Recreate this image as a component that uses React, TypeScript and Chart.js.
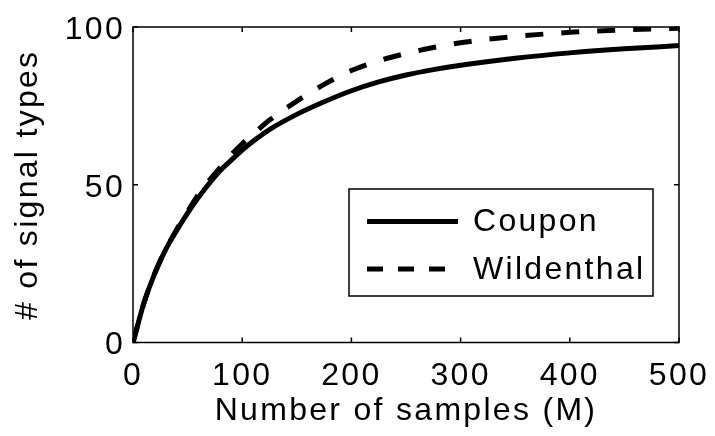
import React, { useEffect, useRef } from "react";
import { Chart, registerables } from "chart.js";

Chart.register(...registerables);

// Number of samples (M)
const samples = [0, 10, 20, 30, 40, 50, 60, 70, 80, 90, 100, 110, 125, 150, 175, 200, 225, 250, 275, 300, 350, 400, 450, 500];
// # of signal types, Coupon model
const coupon = [0, 12.5, 22, 29.5, 35.5, 41, 46, 50.5, 54.5, 57.8, 61, 63.8, 67.5, 72.3, 76.3, 79.8, 82.6, 84.8, 86.5, 87.9, 90.1, 91.8, 93.1, 94.1];
// # of signal types, Wildenthal model
const wildenthal = [0, 12.5, 22, 29.5, 35.8, 41.5, 47, 51.5, 55.5, 59.5, 63, 66, 70.5, 76.5, 81.8, 86.2, 89.3, 91.6, 93.5, 95, 97, 98.3, 99.1, 99.6];

const seriesLabels = ["Coupon", "Wildenthal"];
const xTicks = [0, 100, 200, 300, 400, 500];
const yTicks = [0, 50, 100];
const xTitle = "Number of samples (M)";
const yTitle = "# of signal types";

const FAMILY = "'Liberation Sans', Arial, Helvetica, sans-serif";
const FONT_SIZE = 32;
const SPACING = "2.3px";

export default function App() {
  const ref = useRef<HTMLCanvasElement>(null);

  useEffect(() => {
    const canvas = ref.current;
    if (!canvas) return;

    const framePlugin = {
      id: "frame",
      beforeDraw(chart: any) {
        chart.ctx.letterSpacing = SPACING;
      },
      afterDatasetsDraw(chart: any) {
        const { ctx, chartArea: ca, scales } = chart;
        const xs = scales.x;
        const ys = scales.y;
        ctx.save();
        ctx.strokeStyle = "#000";
        ctx.lineWidth = 1.5;
        ctx.setLineDash([]);
        ctx.strokeRect(ca.left, ca.top, ca.right - ca.left, ca.bottom - ca.top);
        const tl = 5;
        ctx.beginPath();
        for (const v of xTicks) {
          const px = xs.getPixelForValue(v);
          ctx.moveTo(px, ca.bottom);
          ctx.lineTo(px, ca.bottom - tl);
          ctx.moveTo(px, ca.top);
          ctx.lineTo(px, ca.top + tl);
        }
        for (const v of yTicks) {
          const py = ys.getPixelForValue(v);
          ctx.moveTo(ca.left, py);
          ctx.lineTo(ca.left + tl, py);
          ctx.moveTo(ca.right, py);
          ctx.lineTo(ca.right - tl, py);
        }
        ctx.stroke();

        // legend
        const bx = ca.left + 216;
        const by = ca.top + 162;
        const bw = 304;
        const bh = 107;
        ctx.fillStyle = "#fff";
        ctx.fillRect(bx, by, bw, bh);
        ctx.lineWidth = 1.5;
        ctx.strokeRect(bx, by, bw, bh);
        const rows = [by + 32.5, by + 80];
        chart.data.datasets.forEach((ds: any, i: number) => {
          const y = rows[i];
          ctx.beginPath();
          ctx.lineWidth = 5;
          ctx.lineCap = "butt";
          ctx.setLineDash(ds.borderDash && ds.borderDash.length ? [16, 15] : []);
          ctx.moveTo(bx + 18, y);
          ctx.lineTo(bx + 109, y);
          ctx.stroke();
          ctx.setLineDash([]);
          ctx.fillStyle = "#000";
          ctx.font = `${FONT_SIZE}px ${FAMILY}`;
          ctx.textAlign = "left";
          ctx.textBaseline = "middle";
          ctx.fillText(ds.label, bx + 124, y + 1);
        });
        ctx.restore();
      },
    };

    const font = { family: FAMILY, size: FONT_SIZE };

    const chart = new Chart(canvas, {
      type: "line",
      data: {
        datasets: [
          {
            label: seriesLabels[0],
            data: samples.map((x, i) => ({ x, y: coupon[i] })),
            borderColor: "#000",
            backgroundColor: "#000",
            borderWidth: 5,
            pointRadius: 0,
            fill: false,
            cubicInterpolationMode: "monotone",
          },
          {
            label: seriesLabels[1],
            data: samples.map((x, i) => ({ x, y: wildenthal[i] })),
            borderColor: "#000",
            backgroundColor: "#000",
            borderWidth: 5,
            borderDash: [18, 18],
            pointRadius: 0,
            fill: false,
            cubicInterpolationMode: "monotone",
          },
        ],
      },
      options: {
        responsive: false,
        animation: false,
        events: [],
        layout: { padding: { top: 27, right: 36, left: 0, bottom: 0 } },
        plugins: {
          legend: { display: false },
          tooltip: { enabled: false },
        },
        scales: {
          x: {
            type: "linear",
            min: 0,
            max: 500,
            afterBuildTicks: (s: any) => {
              s.ticks = xTicks.map((v) => ({ value: v }));
            },
            afterFit: (s: any) => {
              s.height = 93.5;
              s.paddingLeft = 0;
              s.paddingRight = 0;
            },
            grid: { display: false, drawTicks: false },
            border: { display: false },
            ticks: {
              font,
              color: "#000",
              padding: 14,
              maxRotation: 0,
              autoSkip: false,
            },
            title: {
              display: true,
              text: xTitle,
              font,
              color: "#000",
              padding: { top: 0, bottom: 6 },
            },
          },
          y: {
            type: "linear",
            min: 0,
            max: 100,
            afterBuildTicks: (s: any) => {
              s.ticks = yTicks.map((v) => ({ value: v }));
            },
            afterFit: (s: any) => {
              s.width = 133;
              s.paddingTop = 0;
              s.paddingBottom = 0;
            },
            grid: { display: false, drawTicks: false },
            border: { display: false },
            ticks: {
              font,
              color: "#000",
              padding: 8,
              labelOffset: 3,
              autoSkip: false,
            },
            title: {
              display: true,
              text: yTitle,
              font,
              color: "#000",
              padding: { top: 9, bottom: 0 },
            },
          },
        },
      },
      plugins: [framePlugin],
    } as any);

    return () => chart.destroy();
  }, []);

  return (
    <div
      style={{
        position: "fixed",
        left: 0,
        top: 0,
        width: 715,
        height: 436,
        background: "#fff",
      }}
    >
      <canvas ref={ref} width={715} height={436} style={{ display: "block" }} />
    </div>
  );
}
